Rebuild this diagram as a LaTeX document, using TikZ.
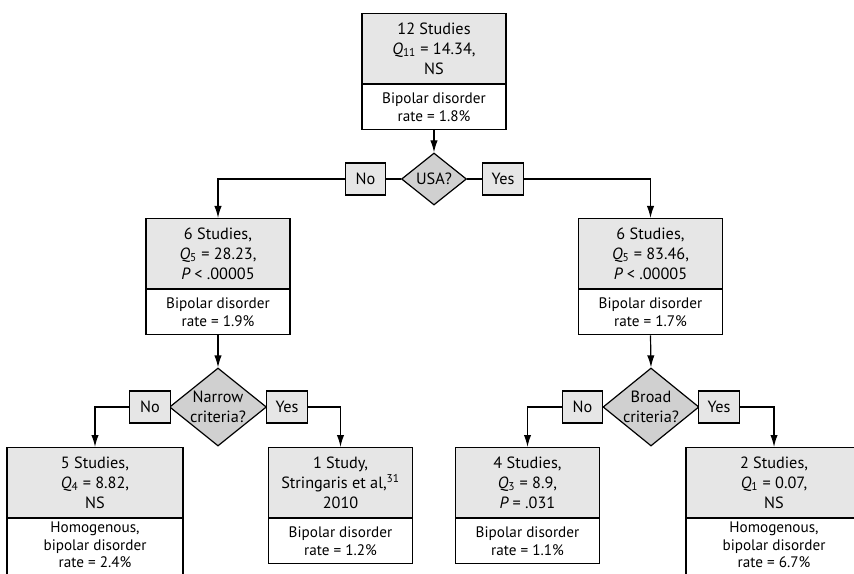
\documentclass[tikz,border=0pt]{standalone}
\usepackage{fontspec}
\setmainfont{PT Sans}
\usetikzlibrary{positioning,shapes.geometric,arrows.meta}
\definecolor{boxgray}{RGB}{230,230,230}
\definecolor{diagray}{RGB}{208,208,208}
\tikzset{
  stat/.style={draw, fill=boxgray, minimum width=108pt, minimum height=52.5pt, inner sep=1pt,
    align=center, font=\fontsize{12.2}{14.8}\selectfont},
  rate/.style={draw, fill=white, minimum width=108pt, minimum height=33.75pt, inner sep=1pt,
    align=center, font=\fontsize{11.4}{12.9}\selectfont},
  wide/.style={minimum width=132pt},
  tall/.style={minimum height=48pt, text depth=9pt},
  decision/.style={diamond, draw, fill=diagray, inner sep=0pt},
  answer/.style={draw, fill=boxgray, minimum width=30.5pt, minimum height=24pt, inner sep=0pt,
    font=\fontsize{12.2}{14.8}\selectfont},
  flow/.style={-{Latex[length=9pt,width=5.5pt]}},
}
\begin{document}
\begin{tikzpicture}[x=0.75pt,y=-0.75pt,line width=0.9pt]
\useasboundingbox (0,0) rectangle (854,574);
\clip (0,0) rectangle (854,574);

% All studies
\node[stat, anchor=north] (all) at (434,13) {12 Studies\\{\itshape Q}\textsubscript{11} = 14.34,\\NS};
\node[rate, below=0pt of all] (all-r) {Bipolar disorder\\rate = 1.8\%};

% Country split
\node[decision, minimum width=48.75pt, minimum height=39pt,
  label={[font=\fontsize{12.2}{14.8}\selectfont]center:USA?}] (usa) at (434,179) {};
\node[answer] (usa-no) at (365.5,179) {No};
\node[answer] (usa-yes) at (503,179) {Yes};

% Second level
\node[stat, anchor=north] (nonusa) at (218,218) {6 Studies,\\{\itshape Q}\textsubscript{5} = 28.23,\\{\itshape P} < .00005};
\node[rate, below=0pt of nonusa] (nonusa-r) {Bipolar disorder\\rate = 1.9\%};
\node[stat, anchor=north] (inusa) at (650.5,218) {6 Studies,\\{\itshape Q}\textsubscript{5} = 83.46,\\{\itshape P} < .00005};
\node[rate, below=0pt of inusa] (inusa-r) {Bipolar disorder\\rate = 1.7\%};

% Criteria splits
\node[decision, minimum width=72.75pt, minimum height=58.5pt,
  label={[align=center, font=\fontsize{12.2}{14.8}\selectfont]center:Narrow\\criteria?}] (narrow) at (218,407) {};
\node[answer] (narrow-no) at (150,407) {No};
\node[answer] (narrow-yes) at (287,407) {Yes};
\node[decision, minimum width=72pt, minimum height=58.5pt,
  label={[align=center, font=\fontsize{12.2}{14.8}\selectfont]center:Broad\\criteria?}] (broad) at (651,407) {};
\node[answer] (broad-no) at (582.5,407) {No};
\node[answer] (broad-yes) at (719,407) {Yes};

% Leaves
\node[stat, wide, anchor=north] (leaf5) at (95,447) {5 Studies,\\{\itshape Q}\textsubscript{4} = 8.82,\\NS};
\node[rate, wide, tall, below=0pt of leaf5] (leaf5-r) {Homogenous,\\bipolar disorder\\rate = 2.4\%};
\node[stat, anchor=north] (leaf1) at (340.5,447) {1 Study,\\Stringaris et al,\textsuperscript{31}\\2010};
\node[rate, below=0pt of leaf1] (leaf1-r) {Bipolar disorder\\rate = 1.2\%};
\node[stat, anchor=north] (leaf4) at (527.5,447) {4 Studies,\\{\itshape Q}\textsubscript{3} = 8.9,\\{\itshape P} = .031};
\node[rate, below=0pt of leaf4] (leaf4-r) {Bipolar disorder\\rate = 1.1\%};
\node[stat, wide, anchor=north] (leaf2) at (774,447) {2 Studies,\\{\itshape Q}\textsubscript{1} = 0.07,\\NS};
\node[rate, wide, tall, below=0pt of leaf2] (leaf2-r) {Homogenous,\\bipolar disorder\\rate = 6.7\%};

% Connectors
\draw[flow] (all-r.south) -- (usa.north);
\draw (usa.west) -- (usa-no.east);
\draw (usa.east) -- (usa-yes.west);
\draw[flow] (usa-no.west) -| (nonusa.north);
\draw[flow] (usa-yes.east) -| (inusa.north);
\draw[flow] (nonusa-r.south) -- (narrow.north);
\draw[flow] (inusa-r.south) -- (broad.north);
\draw[flow] (narrow-no.west) -| (leaf5.north);
\draw[flow] (narrow-yes.east) -| (leaf1.north);
\draw[flow] (broad-no.west) -| (leaf4.north);
\draw[flow] (broad-yes.east) -| (leaf2.north);
\end{tikzpicture}
\end{document}
